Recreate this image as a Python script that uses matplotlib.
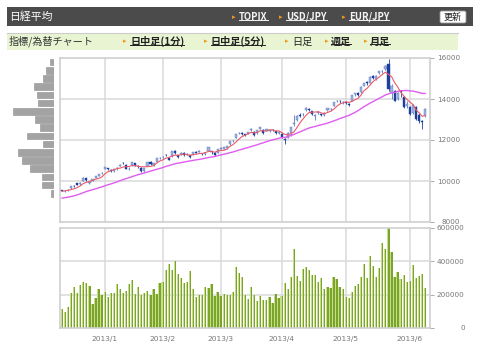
import numpy as np
import pandas as pd
import matplotlib
matplotlib.use("Agg")
import matplotlib.pyplot as plt
from matplotlib.patches import Rectangle, FancyBboxPatch
from matplotlib.lines import Line2D
from matplotlib.transforms import IdentityTransform

# ---------------- data ----------------
months = ["2013/1", "2013/2", "2013/3", "2013/4", "2013/5", "2013/6"]
month_start = [14, 33, 52, 72, 93, 114]

prior_closes = [8975, 8972, 8964, 8837, 8757, 8676, 8661, 8664, 8830, 9024, 9153, 9142,
                9222, 9366, 9388, 9423, 9308, 9400, 9446, 9458, 9432, 9468, 9545, 9527]

opens = [9560, 9520, 9550, 9640, 9760, 9880, 9830, 10010, 10130, 9900, 10000, 10150, 10260, 10380,
         10600, 10640, 10560, 10480, 10620, 10750, 10880, 10800, 10580, 10760, 10880, 10750, 10650, 10490, 10750, 10950, 10800, 10950, 11100,
         11150, 11270, 11120, 11200, 11450, 11250, 11300, 11380, 11280, 11250, 11290, 11400, 11420, 11330, 11300, 11450, 11450, 11350, 11390,
         11560, 11570, 11600, 11800, 11950, 12100, 12320, 12360, 12280, 12300, 12480, 12400, 12350, 12560, 12500, 12450, 12450, 12500, 12420, 12330,
         12300, 12050, 12100, 12350, 12800, 13000, 13200, 13250, 13450, 13500, 13400, 13150, 13300, 13250, 13200, 13450, 13500, 13650, 13880, 13900, 13850,
         13850, 13780, 13900, 14250, 14300, 14350, 14650, 14850, 14800, 15100, 15000, 15250, 15350, 15450, 15700, 14300, 14400, 14000, 14400, 14100, 13650,
         13600, 13300, 13600, 13200, 12950, 13150]
highs = [9575, 9560, 9600, 9760, 9800, 9920, 9930, 10180, 10150, 9990, 10100, 10240, 10330, 10430,
         10700, 10650, 10580, 10600, 10670, 10850, 10950, 10820, 10660, 10930, 10900, 10800, 10680, 10640, 10930, 11000, 10880, 11120, 11190,
         11200, 11300, 11140, 11480, 11500, 11260, 11400, 11420, 11350, 11270, 11420, 11440, 11500, 11370, 11400, 11670, 11470, 11400, 11560,
         11640, 11680, 11700, 11950, 12000, 12300, 12380, 12380, 12300, 12400, 12600, 12420, 12480, 12650, 12520, 12560, 12500, 12550, 12450, 12420,
         12350, 12100, 12400, 12650, 13225, 13200, 13300, 13300, 13600, 13580, 13420, 13250, 13400, 13280, 13350, 13580, 13550, 13850, 13950, 13930, 13900,
         13870, 13800, 14200, 14300, 14330, 14620, 14800, 14900, 15100, 15150, 15150, 15380, 15400, 15650, 15942, 14750, 14450, 14350, 14450, 14150, 13900,
         13650, 13750, 13650, 13300, 13000, 13550]
lows = [9500, 9480, 9530, 9630, 9700, 9800, 9800, 10000, 10000, 9870, 9980, 10130, 10240, 10350,
        10590, 10550, 10450, 10460, 10560, 10720, 10850, 10570, 10550, 10740, 10720, 10650, 10460, 10450, 10740, 10800, 10750, 10940, 11080,
        11120, 11200, 11020, 11180, 11320, 11100, 11280, 11230, 11250, 11120, 11280, 11350, 11400, 11280, 11270, 11440, 11300, 11200, 11380,
        11540, 11550, 11580, 11780, 11900, 12080, 12280, 12250, 12200, 12280, 12460, 12200, 12300, 12540, 12300, 12430, 12400, 12450, 12300, 12300,
        12100, 11800, 12080, 12200, 12700, 12950, 13100, 13150, 13400, 13400, 13230, 13000, 13250, 13150, 13180, 13420, 13400, 13640, 13850, 13800, 13750,
        13750, 13650, 13880, 14150, 14150, 14300, 14620, 14700, 14780, 15000, 14950, 15230, 15250, 15420, 14400, 13980, 13900, 13960, 14100, 13550, 13550,
        13200, 13250, 13000, 12850, 12550, 13100]
closes = [9533, 9525, 9581, 9742, 9737, 9828, 9923, 10160, 10039, 9940, 10080, 10230, 10322, 10395,
          10688, 10599, 10508, 10578, 10652, 10801, 10879, 10600, 10609, 10913, 10747, 10709, 10487, 10620, 10926, 10824, 10866, 11113, 11138,
          11191, 11260, 11046, 11463, 11357, 11153, 11369, 11251, 11307, 11173, 11407, 11372, 11468, 11309, 11385, 11662, 11398, 11254, 11559,
          11606, 11652, 11683, 11932, 11968, 12283, 12349, 12314, 12239, 12381, 12560, 12220, 12468, 12635, 12338, 12546, 12471, 12493, 12336, 12397,
          12135, 12003, 12362, 12634, 12833, 13192, 13192, 13288, 13549, 13485, 13275, 13221, 13382, 13220, 13316, 13568, 13529, 13843, 13926, 13884, 13860,
          13799, 13694, 14180, 14285, 14191, 14607, 14782, 14758, 15096, 15037, 15138, 15360, 15381, 15627, 14483, 14612, 13919, 14311, 14326, 13589, 13775,
          13261, 13714, 13014, 12904, 12877, 13514]

volume = [114000, 96000, 128000, 212000, 244000, 212000, 256000, 276000, 272000, 252000,
          142000, 180000, 232000, 198000, 216000, 186000, 210000, 210000, 264000, 236000,
          210000, 224000, 264000, 286000, 206000, 244000, 198000, 212000, 220000, 196000,
          236000, 204000, 272000, 276000, 350000, 384000, 350000, 402000, 324000, 298000,
          272000, 278000, 344000, 236000, 188000, 200000, 196000, 246000, 240000, 264000,
          190000, 216000, 190000, 204000, 200000, 200000, 214000, 364000, 332000, 306000,
          196000, 172000, 248000, 196000, 162000, 192000, 168000, 170000, 188000, 152000,
          206000, 180000, 194000, 272000, 234000, 306000, 476000, 310000, 284000, 356000,
          368000, 350000, 318000, 318000, 278000, 300000, 236000, 246000, 240000, 304000,
          294000, 246000, 236000, 184000, 180000, 214000, 252000, 264000, 308000, 384000,
          300000, 432000, 370000, 308000, 362000, 510000, 476000, 600000, 458000, 304000,
          334000, 294000, 318000, 278000, 282000, 378000, 302000, 312000, 322000, 240000]

# volume-by-price profile (bin lower edges, bin size 400)
vbp_levels = [9200, 9600, 10000, 10400, 10800, 11200, 11600, 12000, 12400,
              12800, 13200, 13600, 14000, 14400, 14800, 15200, 15600]
vbp_values = [3, 12, 12, 24, 32, 36, 11, 27, 14, 19, 41, 16, 17, 20, 11, 8, 4]

price_ticks = [8000, 10000, 12000, 14000, 16000]
vol_ticks = [0, 200000, 400000, 600000]

# ---------------- figure ----------------
W, H = 480, 357
fig = plt.figure(figsize=(W / 100, H / 100), dpi=100)
fig.patch.set_facecolor("white")
JP = ["Noto Sans CJK JP", "DejaVu Sans"]


def fx(x):
    return x / W


def fy(y):
    return 1 - y / H


def rect(x0, y0, x1, y1, **kw):
    fig.add_artist(Rectangle((fx(x0), fy(y1)), fx(x1) - fx(x0), fy(y0) - fy(y1),
                             transform=fig.transFigure, **kw))


# header bar
rect(7, 7, 473, 26, facecolor="#4b4b4b", edgecolor="none")
fig.text(fx(9), fy(16.5), "日経平均", color="white", fontsize=7.8, family=JP, va="center")
links_top = [(232, 239, "TOPIX"), (279, 286, "USD/JPY"), (342, 349, "EUR/JPY")]
underlines = []
for ax_, tx, label in links_top:
    fig.text(fx(ax_), fy(17), "▸", color="#f39a1e", fontsize=5, va="center", family=["DejaVu Sans"])
    t = fig.text(fx(tx), fy(17), label, color="#f4f4f4", fontsize=6.8, weight="bold",
                 family=JP, va="center")
    underlines.append((t, "#f4f4f4"))
# button
fig.add_artist(FancyBboxPatch((fx(440), fy(23)), fx(26), 12 / H,
                              boxstyle="round,pad=0,rounding_size=0.004",
                              transform=fig.transFigure, facecolor="white",
                              edgecolor="#999999", linewidth=0.6))
fig.text(fx(453), fy(17), "更新", color="#222222", fontsize=6.5, family=JP,
         ha="center", va="center")

# second bar
rect(7, 33, 458, 50, facecolor="#e8f4d2", edgecolor="none")
fig.add_artist(Line2D([fx(7), fx(458)], [fy(32.5), fy(32.5)], transform=fig.transFigure,
                      color="#cccccc", lw=0.8))
fig.text(fx(9), fy(41.5), "指標/為替チャート", color="#333333", fontsize=7.3, family=JP, va="center")
links_2 = [(123, 130, "日中足(1分)", True), (204, 211, "日中足(5分)", True),
           (285, 292, "日足", False), (325, 331, "週足", True), (364, 370, "月足", True)]
for ax_, tx, label, ul in links_2:
    fig.text(fx(ax_), fy(41.5), "▸", color="#f39a1e", fontsize=5, va="center", family=["DejaVu Sans"])
    t = fig.text(fx(tx), fy(41.5), label, color="#222222", fontsize=7.3,
                 weight="bold" if ul else "normal", family=JP, va="center")
    if ul:
        underlines.append((t, "#222222"))

# axes geometry (pixels)
AX_L, AX_R = 60, 430
P_T, P_B = 58, 222
V_T, V_B = 228, 328
ax_p = fig.add_axes([fx(AX_L), fy(P_B), fx(AX_R) - fx(AX_L), fy(P_T) - fy(P_B)])
ax_v = fig.add_axes([fx(AX_L), fy(V_B), fx(AX_R) - fx(AX_L), fy(V_T) - fy(V_B)])
ax_h = fig.add_axes([fx(0), fy(P_B), fx(54), fy(P_T) - fy(P_B)])

n = len(closes)
x = np.arange(n)
o = np.array(opens)
c = np.array(closes)
hi = np.array(highs)
lo = np.array(lows)
up = c >= o

grid_c = "#dadada"
spine_c = "#cfcfcf"
lab_c = "#777777"

for a in (ax_p, ax_v):
    a.set_xlim(-0.66, n + 0.6)
    for s in a.spines.values():
        s.set_color(spine_c)
        s.set_linewidth(1.2)
    for m in month_start:
        a.axvline(m, color=grid_c, lw=1.1, zorder=0)
    a.yaxis.tick_right()
    a.tick_params(axis="y", length=3, width=0.7, color="#aaaaaa", labelsize=5.2,
                  labelcolor=lab_c)

# price panel
ax_p.set_ylim(8000, 16000)
ax_p.set_yticks(price_ticks)
ax_p.set_yticklabels([str(v) for v in price_ticks], ha="right")
ax_p.tick_params(axis="y", pad=18.5)
for v in price_ticks[1:-1]:
    ax_p.axhline(v, color=grid_c, lw=1.1, zorder=0)
ax_p.set_xticks([])

up_face, up_edge, dn_face = "#9db3dd", "#5a78bd", "#1d3f9c"
ax_p.vlines(x[up], lo[up], hi[up], color=up_edge, lw=0.6, zorder=2)
ax_p.vlines(x[~up], lo[~up], hi[~up], color=dn_face, lw=0.6, zorder=2)
ax_p.bar(x[up], (c - o)[up], bottom=o[up], width=0.7, color=up_face,
         edgecolor=up_edge, linewidth=0.3, zorder=3)
ax_p.bar(x[~up], (o - c)[~up], bottom=c[~up], width=0.7, color=dn_face,
         edgecolor=dn_face, linewidth=0.3, zorder=3)

s_all = pd.Series(prior_closes + closes, dtype=float)
ma5 = s_all.rolling(5).mean().iloc[len(prior_closes):].to_numpy()
ma25 = s_all.rolling(25).mean().iloc[len(prior_closes):].to_numpy()
ax_p.plot(x, ma25, color="#e05cf0", lw=1.0, zorder=4)
ax_p.plot(x, ma5, color="#ea5a6a", lw=0.8, zorder=4)

# volume panel
ax_v.set_ylim(0, 600000)
ax_v.set_yticks(vol_ticks)
ax_v.set_yticklabels([str(v) for v in vol_ticks], ha="right")
ax_v.tick_params(axis="y", pad=22)
for v in vol_ticks[1:-1]:
    ax_v.axhline(v, color=grid_c, lw=1.1, zorder=0)
vol = np.array(volume)
ax_v.bar(x - 0.22, vol, width=0.36, color="#c4de8c", zorder=2, linewidth=0)
ax_v.bar(x + 0.14, vol, width=0.40, color="#7aa42a", zorder=2, linewidth=0)
ax_v.set_xticks(month_start)
ax_v.set_xticklabels(months)
ax_v.tick_params(axis="x", length=0, pad=5.5, labelsize=5.4, labelcolor=lab_c)

# volume-by-price profile
ax_h.barh(np.array(vbp_levels) + 200, vbp_values, height=330, color="#a3a3a3",
          edgecolor="#8e8e8e", linewidth=0.4)
ax_h.set_xlim(54, 0)
ax_h.set_ylim(8000, 16000)
ax_h.axis("off")

# underlines for link texts
fig.canvas.draw()
for t, col in underlines:
    bb = t.get_window_extent()
    yb = bb.y0 + 2.2
    fig.add_artist(Line2D([bb.x0, bb.x1], [yb, yb], transform=IdentityTransform(),
                          color=col, lw=0.7))

fig.savefig("out.png", dpi=100)
